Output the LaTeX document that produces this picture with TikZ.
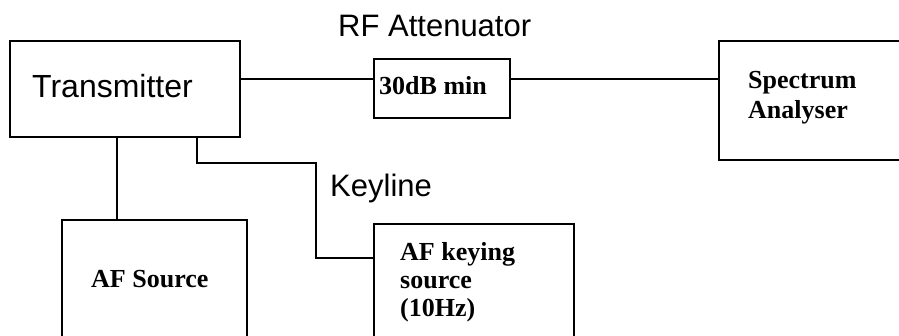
\documentclass[tikz,border=0pt]{standalone}
\usepackage{fontspec}
\setmainfont{Liberation Serif}
\newfontfamily\arialf{Liberation Sans}
\begin{document}
\begin{tikzpicture}[x=1pt,y=-1pt,
  boxst/.style={draw=black,line width=1.6pt,rectangle,inner sep=0pt,outer sep=0pt},
  wire/.style={draw=black,line width=1.6pt},
  sanslbl/.style={inner sep=0pt,anchor=base west,font=\arialf\fontsize{31}{36}\selectfont},
  seriflbl/.style={inner sep=0pt,anchor=base west,font=\bfseries\fontsize{26}{29}\selectfont}]
\useasboundingbox (0,0) rectangle (899,336);
\clip (0,0) rectangle (899,336);
\fill[white] (0,0) rectangle (899,336);
% boxes
\node[boxst,minimum width=230pt,minimum height=96pt] (tx) at (125,89) {};
\node[boxst,minimum width=136pt,minimum height=59pt] (att) at (442,88.5) {};
\node[boxst,minimum width=260pt,minimum height=119pt] (sa) at (849,100.5) {};
\node[boxst,minimum width=185pt,minimum height=160pt] (afs) at (154.5,300) {};
\node[boxst,minimum width=200pt,minimum height=156pt] (afk) at (474,302) {};
% labels
\node[sanslbl,font=\arialf\fontsize{32}{38}\selectfont] (txl) at (32,98) {Transmitter};
\node[sanslbl] (rfl) at (338,37) {RF Attenuator};
\node[sanslbl] (kl) at (330,197) {Keyline};
\node[seriflbl] (attl) at (379,95) {30dB min};
\node[seriflbl] (sal) at (748,89) {\vtop{\baselineskip=30pt\hbox{Spectrum}\hbox{Analyser}}};
\node[seriflbl] (afsl) at (91,288) {AF Source};
\node[seriflbl] (afkl) at (400,261) {\vtop{\baselineskip=28pt\hbox{AF keying}\hbox{source}\hbox{(10Hz)}}};
% connectors
\coordinate (rfy) at (0,79);
\coordinate (afx) at (117,0);
\coordinate (kx) at (197,0);
\coordinate (k1) at (197,163);
\coordinate (k2) at (316,163);
\coordinate (k3) at (316,258);
\draw[wire] (tx.east |- rfy) -- (att.west |- rfy);
\draw[wire] (att.east |- rfy) -- (sa.west |- rfy);
\draw[wire] (tx.south -| afx) -- (afs.north -| afx);
\draw[wire] (tx.south -| kx) -- (k1) -- (k2) -- (k3) -- (afk.west |- k3);
\end{tikzpicture}
\end{document}
